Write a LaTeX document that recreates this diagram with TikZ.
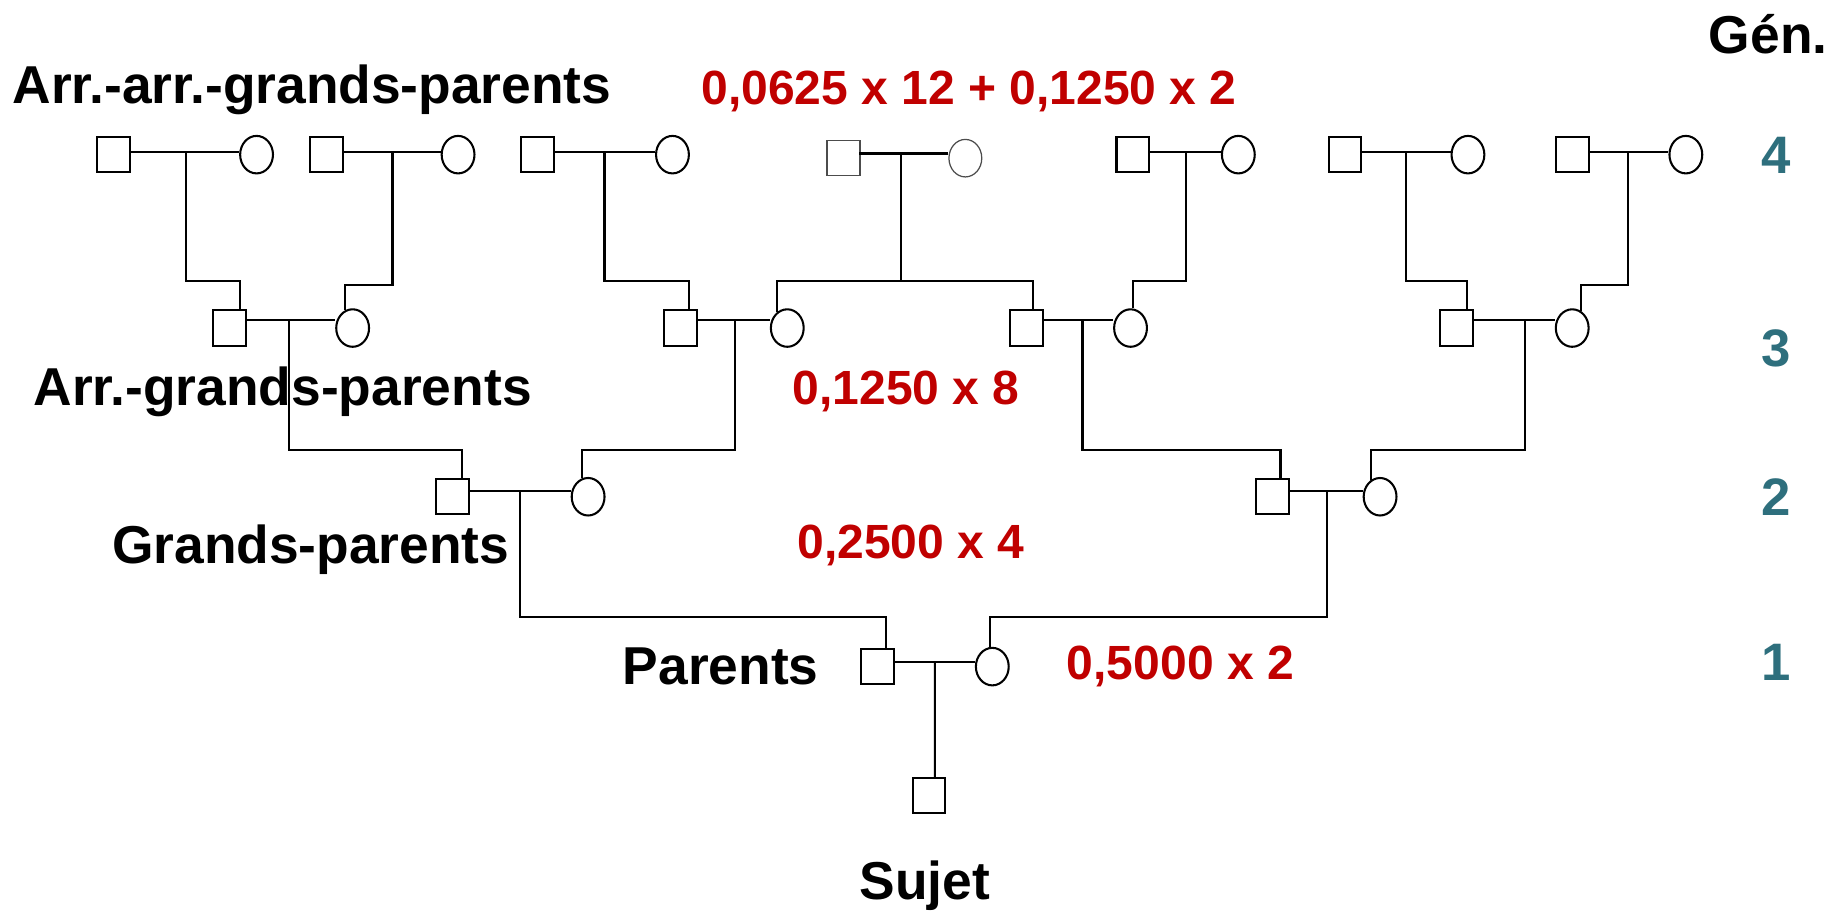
\documentclass[tikz,border=0pt]{standalone}
\usepackage{fontspec}
\setmainfont{Liberation Sans}
\usetikzlibrary{shapes.geometric}
\definecolor{rouge}{HTML}{C00000}
\definecolor{bleugen}{HTML}{2E6F7D}

\begin{document}
\begin{tikzpicture}[
        x = 0.01cm, y = -0.01cm,
        carre/.style = {rectangle, draw, line width=0.5pt, minimum width=0.28cm, minimum height=0.30cm, inner sep=0pt},
        rond/.style = {ellipse, draw, line width=0.5pt, minimum width=0.28cm, minimum height=0.32cm, inner sep=0pt},
        pale/.style = {draw=black!70, line width=0.3pt},
        trait/.style = {line width=0.5pt},
        titre/.style = {anchor=base west, inner sep=0pt, font=\bfseries\fontsize{12.95}{15}\selectfont},
        coef/.style = {anchor=base west, inner sep=0pt, text=rouge, font=\bfseries\fontsize{11.65}{14}\selectfont},
        gen/.style = {anchor=base, inner sep=0pt, text=bleugen, font=\bfseries\fontsize{12.8}{15}\selectfont}
        ]
        \useasboundingbox (0,0) rectangle (1568,778);

        % generation 4
        \node[carre] (h1) at (97,132) {};
        \node[rond] (f1) at (219,132) {};
        \node[carre] (h2) at (279,132) {};
        \node[rond] (f2) at (391,132) {};
        \node[carre] (h3) at (459,132) {};
        \node[rond] (f3) at (574,132) {};
        \node[carre,pale] (h4) at (720,135) {};
        \node[rond,pale] (f4) at (824,135) {};
        \node[carre] (h5) at (967,132) {};
        \node[rond] (f5) at (1057,132) {};
        \node[carre] (h6) at (1148,132) {};
        \node[rond] (f6) at (1253,132) {};
        \node[carre] (h7) at (1342,132) {};
        \node[rond] (f7) at (1439,132) {};
        \coordinate (e1) at (159,130);
        \coordinate (e2) at (335,130);
        \coordinate (e3) at (516,130);
        \coordinate (e4) at (769,131);
        \coordinate (e5) at (1012,130);
        \coordinate (e6) at (1200,130);
        \coordinate (e7) at (1390,130);

        % generation 3
        \node[carre] (hA) at (196,280) {};
        \node[rond] (fA) at (301,280) {};
        \node[carre] (hB) at (581,280) {};
        \node[rond] (fB) at (672,280) {};
        \node[carre] (hC) at (876,280) {};
        \node[rond] (fC) at (965,280) {};
        \node[carre] (hD) at (1243,280) {};
        \node[rond] (fD) at (1342,280) {};
        \coordinate (eA) at (247,273);
        \coordinate (eB) at (627,273);
        \coordinate (eC) at (924,273);
        \coordinate (eD) at (1302,273);

        % generation 2
        \node[carre] (hE) at (386,424) {};
        \node[rond] (fE) at (502,424) {};
        \node[carre] (hF) at (1086,424) {};
        \node[rond] (fF) at (1178,424) {};
        \coordinate (eE) at (444,419);
        \coordinate (eF) at (1133,419);

        % generation 1 et sujet
        \node[carre] (hP) at (749,569) {};
        \node[rond] (fP) at (847,569) {};
        \coordinate (eP) at (798,565);
        \node[carre] (s) at (793,679) {};

        % unions
        \draw[trait] (h1.east |- e1) -- (f1.west |- e1)
                     (h2.east |- e2) -- (f2.west |- e2)
                     (h3.east |- e3) -- (f3.west |- e3)
                     (h5.east |- e5) -- (f5.west |- e5)
                     (h6.east |- e6) -- (f6.west |- e6)
                     (h7.east |- e7) -- (f7.west |- e7)
                     (hA.east |- eA) -- (fA.west |- eA)
                     (hB.east |- eB) -- (fB.west |- eB)
                     (hC.east |- eC) -- (fC.west |- eC)
                     (hD.east |- eD) -- (fD.west |- eD)
                     (hE.east |- eE) -- (fE.west |- eE)
                     (hF.east |- eF) -- (fF.west |- eF)
                     (hP.east |- eP) -- (fP.west |- eP);
        \draw[trait] ([xshift=-0.01cm]h4.east |- e4) -- (f4.west |- e4);

        % filiations
        \draw[trait] (e1) -- ++(0,110) -| ([xshift=0.09cm]hA.north);
        \draw[trait] (e2) -- ++(0,113) -| (fA.113);
        \draw[trait] (e3) -- ++(0,110) -| ([xshift=0.07cm]hB.north);
        \draw[trait] (e4) -- ++(0,109) coordinate (j4);
        \draw[trait] (fB.121) |- (j4) -| ([xshift=0.06cm]hC.north);
        \draw[trait] (e5) -- ++(0,110) -| (fC.83);
        \draw[trait] (e6) -- ++(0,110) -| ([xshift=0.09cm]hD.north);
        \draw[trait] (e7) -- ++(0,113) -| (fD.63);
        \draw[trait] (eA) -- ++(0,111) -| ([xshift=0.08cm]hE.north);
        \draw[trait] (eB) -- ++(0,111) -| (fE.109);
        \draw[trait] (eC) -- ++(0,111) -| ([xshift=0.07cm]hF.north);
        \draw[trait] (eD) -- ++(0,111) -| (fF.117);
        \draw[trait] (eE) -- ++(0,108) -| ([xshift=0.07cm]hP.north);
        \draw[trait] (eF) -- ++(0,108) -| (fP.97);
        \draw[trait] (eP) -- ([xshift=0.05cm]s.north);

        % textes
        \node[titre] (t4) at (10,88) {Arr.-arr.-grands-parents};
        \node[titre] (t3) at (28,346) {Arr.-grands-parents};
        \node[titre] (t2) at (95,481) {Grands-parents};
        \node[titre] (t1) at (531,584) {Parents};
        \node[titre] (t0) at (733,768) {Sujet};
        \node[coef] (c4) at (598,89) {0,0625 x 12 + 0,1250 x 2};
        \node[coef] (c3) at (676,345) {0,1250 x 8};
        \node[coef] (c2) at (680,477) {0,2500 x 4};
        \node[coef] (c1) at (910,580) {0,5000 x 2};
        \node[titre] (g) at (1458,46) {Gén.};
        \node[gen] (g4) at (1516,148) {4};
        \node[gen] (g3) at (1516,313) {3};
        \node[gen] (g2) at (1516,440) {2};
        \node[gen] (g1) at (1516,581) {1};
\end{tikzpicture}
\end{document}
